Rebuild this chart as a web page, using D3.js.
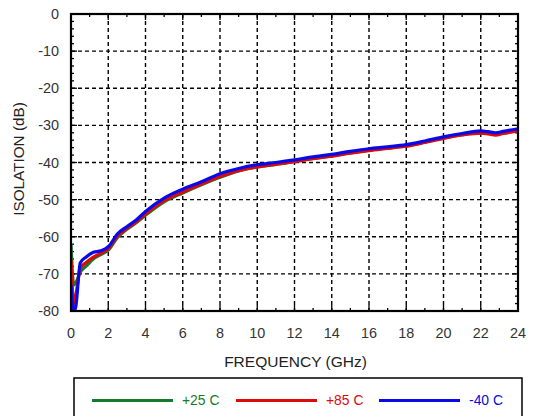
<!DOCTYPE html>
<html>
<head>
<meta charset="utf-8">
<script src="https://cdn.jsdelivr.net/npm/d3@7"></script>
<style>
  html, body { margin: 0; padding: 0; background: #fff; }
  svg { display: block; font-family: "Liberation Sans", Arial, Helvetica, sans-serif; }
</style>
</head>
<body>
<svg id="chart" width="535" height="416"></svg>
<script>
// Frequency points (GHz)
const freq = [0, 0.15, 0.25, 0.5, 0.8, 1.2, 1.6, 2, 2.5, 3, 3.5, 4, 5, 6, 7, 8, 9, 10, 11, 12, 13, 14, 15, 16, 17, 18, 19, 20, 21, 22, 22.4, 22.8, 23.2, 24];

// Isolation (dB) per temperature
const iso25 = [-62, -73, -72.5, -69.5, -68, -66, -64.8, -63.6, -60.2, -58, -56.2, -54.2, -50.6, -48.2, -46, -44, -42.3, -41.2, -40.5, -39.7, -38.9, -38.2, -37.4, -36.7, -36.1, -35.5, -34.5, -33.4, -32.5, -32, -32.1, -32.4, -32, -31.3];
const iso85 = [-66, -78, -76, -68.5, -67, -65.5, -64.5, -63.3, -59.8, -57.8, -56, -53.9, -50.3, -48, -45.8, -43.8, -42.2, -41.2, -40.5, -39.8, -39, -38.3, -37.5, -36.8, -36.2, -35.6, -34.6, -33.5, -32.6, -32.1, -32.3, -32.6, -32.2, -31.5];
const isoM40 = [-73, -80, -79, -67, -65.5, -64.2, -63.8, -62.7, -59.2, -57.3, -55.5, -53.2, -49.6, -47.2, -45.2, -43, -41.6, -40.6, -40, -39.3, -38.5, -37.8, -37, -36.3, -35.8, -35.2, -34.2, -33.1, -32.2, -31.5, -31.7, -32, -31.6, -30.9];

const series = [
  { name: "+25 C", values: iso25, color: "#157a2c" },
  { name: "+85 C", values: iso85, color: "#dd0a0a" },
  { name: "-40 C", values: isoM40, color: "#0a0ae6" }
];

const xTicks = [0, 2, 4, 6, 8, 10, 12, 14, 16, 18, 20, 22, 24];
const yTicks = [0, -10, -20, -30, -40, -50, -60, -70, -80];

const svg = d3.select("#chart");
const plot = { left: 71, right: 518, top: 14, bottom: 311 };

const x = d3.scaleLinear().domain([0, 24]).range([plot.left, plot.right]);
const y = d3.scaleLinear().domain([-80, 0]).range([plot.bottom, plot.top]);

// Dashed grid
const grid = svg.append("g").attr("stroke", "#000").attr("stroke-width", 1.4).attr("stroke-dasharray", "4,3");
xTicks.slice(1, -1).forEach(t => {
  grid.append("line").attr("x1", x(t)).attr("x2", x(t)).attr("y1", plot.top).attr("y2", plot.bottom);
});
yTicks.slice(1, -1).forEach(t => {
  grid.append("line").attr("x1", plot.left).attr("x2", plot.right).attr("y1", y(t)).attr("y2", y(t));
});

// Inward ticks on all four sides
const tickG = svg.append("g").attr("stroke", "#000").attr("stroke-width", 1.3);
d3.range(0, 24.01, 1).forEach(t => {
  const len = (t % 2 === 0) ? 6 : 3;
  tickG.append("line").attr("x1", x(t)).attr("x2", x(t)).attr("y1", plot.bottom).attr("y2", plot.bottom - len);
  tickG.append("line").attr("x1", x(t)).attr("x2", x(t)).attr("y1", plot.top).attr("y2", plot.top + len);
});
d3.range(-80, 0.01, 2).forEach(t => {
  const len = (t % 10 === 0) ? 6 : 3;
  tickG.append("line").attr("x1", plot.left).attr("x2", plot.left + len).attr("y1", y(t)).attr("y2", y(t));
  tickG.append("line").attr("x1", plot.right).attr("x2", plot.right - len).attr("y1", y(t)).attr("y2", y(t));
});

// Data lines
const line = d3.line().x((d, i) => x(freq[i])).y(d => y(d)).curve(d3.curveMonotoneX);
svg.append("clipPath").attr("id", "clip").append("rect")
  .attr("x", plot.left).attr("y", plot.top).attr("width", plot.right - plot.left).attr("height", plot.bottom - plot.top);
svg.append("g").attr("clip-path", "url(#clip)")
  .selectAll("path").data(series).join("path")
  .attr("d", d => line(d.values))
  .attr("fill", "none")
  .attr("stroke", d => d.color)
  .attr("stroke-width", 3.2)
  .attr("stroke-linejoin", "round");

// Frame
svg.append("rect").attr("x", plot.left).attr("y", plot.top)
  .attr("width", plot.right - plot.left).attr("height", plot.bottom - plot.top)
  .attr("fill", "none").attr("stroke", "#000").attr("stroke-width", 2.2);

// Axis labels
svg.append("g").selectAll("text").data(xTicks).join("text")
  .attr("x", d => x(d)).attr("y", 338)
  .attr("text-anchor", "middle").attr("font-size", 14.4).attr("fill", "#333")
  .text(d => d);
svg.append("g").selectAll("text").data(yTicks).join("text")
  .attr("x", 59).attr("y", d => y(d) + 5)
  .attr("text-anchor", "end").attr("font-size", 14.4).attr("fill", "#333")
  .text(d => d);

svg.append("text").attr("x", 295.5).attr("y", 367).attr("text-anchor", "middle")
  .attr("font-size", 15.5).attr("fill", "#222").text("FREQUENCY (GHz)");
svg.append("text").attr("transform", "translate(23.5,159) rotate(-90)").attr("text-anchor", "middle")
  .attr("font-size", 15.3).attr("fill", "#222").text("ISOLATION (dB)");

// Legend
svg.append("rect").attr("x", 74).attr("y", 378).attr("width", 448).attr("height", 50)
  .attr("fill", "#fff").attr("stroke", "#000").attr("stroke-width", 1.5);
const legendX = [92, 236, 379];
series.forEach((s, i) => {
  svg.append("line").attr("x1", legendX[i]).attr("x2", legendX[i] + 81).attr("y1", 400.5).attr("y2", 400.5)
    .attr("stroke", s.color).attr("stroke-width", 2.8);
  svg.append("text").attr("x", legendX[i] + 90).attr("y", 405).attr("font-size", 13.9)
    .attr("fill", s.color).text(s.name);
});
</script>
</body>
</html>
